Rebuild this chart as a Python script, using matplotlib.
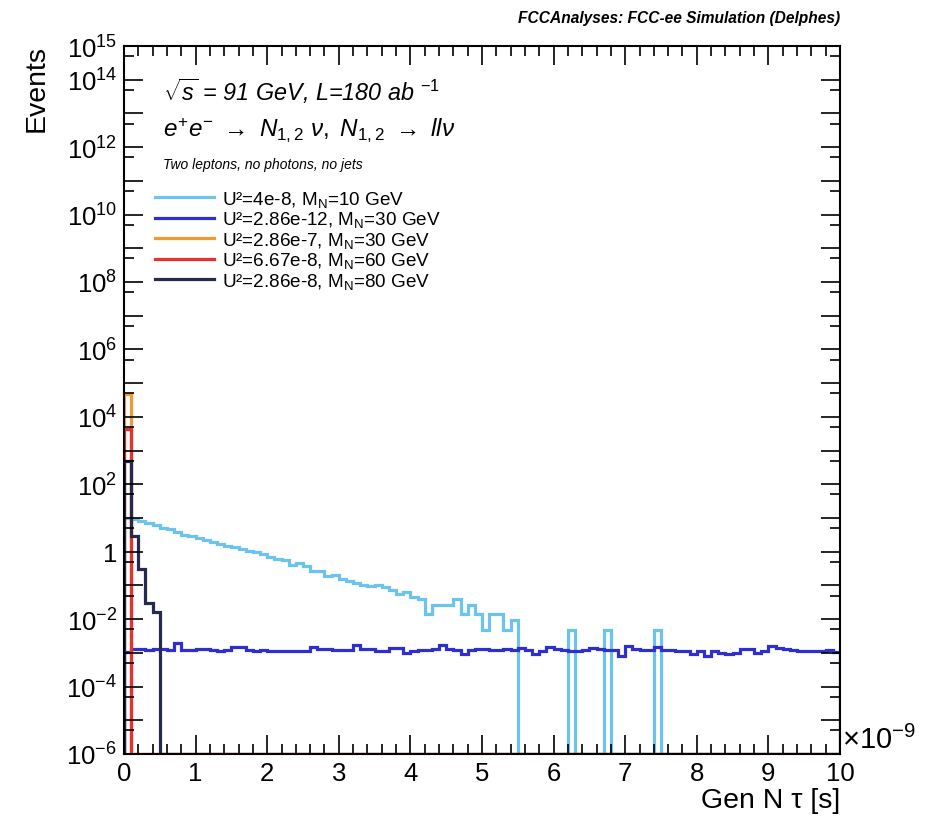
import numpy as np
import matplotlib
matplotlib.use("Agg")
import matplotlib.pyplot as plt
from matplotlib.lines import Line2D
from matplotlib.ticker import FixedLocator, FixedFormatter

plt.rcParams['font.family'] = ['Liberation Sans', 'DejaVu Sans']
plt.rcParams['mathtext.fontset'] = 'custom'
plt.rcParams['mathtext.rm'] = 'Liberation Sans'
plt.rcParams['mathtext.it'] = 'Liberation Sans:italic'
plt.rcParams['mathtext.bf'] = 'Liberation Sans:bold'

# bin edges in units of 1e-9 s, 100 bins
edges = np.linspace(0, 10, 101)

# U2=4e-8, MN=10 GeV
h_10 = [10.2, 9.4, 8.1, 6.9, 6.3, 5.2, 4.6, 3.9, 3.1, 2.9,
        2.6, 2.2, 1.9, 1.7, 1.5, 1.35, 1.2, 1.05, 0.95, 0.85,
        0.72, 0.62, 0.55, 0.41, 0.45, 0.38, 0.26, 0.27, 0.19, 0.21,
        0.16, 0.14, 0.12, 0.105, 0.098, 0.10, 0.087, 0.072, 0.055, 0.063,
        0.045, 0.039, 0.0145, 0.026, 0.026, 0.026, 0.039, 0.0145, 0.026, 0.0145,
        0.0048, 0.0145, 0.0145, 0.0048, 0.0096, 0, 0, 0, 0, 0,
        0, 0, 0.0048, 0, 0, 0, 0, 0.0048, 0, 0,
        0, 0, 0, 0, 0.0048, 0, 0, 0, 0, 0,
        0, 0, 0, 0, 0, 0, 0, 0, 0, 0,
        0, 0, 0, 0, 0, 0, 0, 0, 0, 0]

# U2=2.86e-12, MN=30 GeV
h_30a = [0.00105, 0.0013, 0.0013, 0.0012, 0.0013, 0.0013, 0.00125, 0.0019, 0.0012, 0.00125,
         0.0013, 0.0013, 0.0012, 0.0011, 0.00125, 0.0015, 0.0015, 0.0012, 0.0011, 0.0012,
         0.0011, 0.0011, 0.00115, 0.0011, 0.0011, 0.0011, 0.00145, 0.0013, 0.0013, 0.00125,
         0.0012, 0.0012, 0.0017, 0.0013, 0.0013, 0.0011, 0.0011, 0.00135, 0.00135, 0.001,
         0.0011, 0.00125, 0.00125, 0.0013, 0.0017, 0.0013, 0.00125, 0.00095, 0.0012, 0.0013,
         0.0013, 0.0012, 0.0012, 0.0013, 0.0012, 0.00135, 0.0012, 0.00095, 0.0011, 0.0015,
         0.0013, 0.0012, 0.0011, 0.0011, 0.0012, 0.0014, 0.0013, 0.0012, 0.00125, 0.0008,
         0.0016, 0.0013, 0.0012, 0.00125, 0.0015, 0.0012, 0.0012, 0.0011, 0.0011, 0.0009,
         0.0011, 0.0008, 0.0011, 0.001, 0.0009, 0.001, 0.0013, 0.0013, 0.0010, 0.0011,
         0.0016, 0.0014, 0.0013, 0.0012, 0.0011, 0.0011, 0.00115, 0.0011, 0.0012, 0.00105]

# U2=2.86e-7, MN=30 GeV / U2=6.67e-8, MN=60 GeV / U2=2.86e-8, MN=80 GeV
h_30b = [4.7e4] + [0] * 99
h_60 = [4400] + [0] * 99
h_80 = [500, 3.0, 0.3, 0.03, 0.016] + [0] * 95

labels = ['U\u00b2=4e-8, M$_{\\mathrm{N}}$=10 GeV',
          'U\u00b2=2.86e-12, M$_{\\mathrm{N}}$=30 GeV',
          'U\u00b2=2.86e-7, M$_{\\mathrm{N}}$=30 GeV',
          'U\u00b2=6.67e-8, M$_{\\mathrm{N}}$=60 GeV',
          'U\u00b2=2.86e-8, M$_{\\mathrm{N}}$=80 GeV']
colors = ['#6cc3ee', '#2f2fcf', '#f09a32', '#e8302e', '#262a4e']

W, H = 935, 829
fig = plt.figure(figsize=(W / 100, H / 100), dpi=100)
ax = fig.add_axes([124 / W, 1 - 755 / H, (840 - 124) / W, (755 - 47) / H])

ymin, ymax = 1e-6, 1e15
for h, c in zip([h_10, h_30a, h_30b, h_60, h_80], colors):
    v = np.array(h, dtype=float)
    v[v <= 0] = ymin  # empty bins drawn on the frame bottom, as ROOT does
    ax.stairs(v, edges, baseline=ymin, color=c, lw=2.3)

ax.set_yscale('log')
ax.set_xlim(0, 10)
ax.set_ylim(ymin, ymax)

# ticks
ax.set_xticks(np.arange(0, 11, 1))
ax.set_xticks(np.arange(0, 10.01, 0.2), minor=True)
ax.set_xticklabels([str(i) for i in range(11)])
exps = np.arange(-6, 16)
ax.yaxis.set_major_locator(FixedLocator(10.0 ** exps))
ylab = []
for e in exps:
    if e == 0:
        ylab.append('1')
    elif e % 2 == 0 or e == 15:
        ylab.append(r'$10^{%d}$' % e)
    else:
        ylab.append('')
ax.yaxis.set_major_formatter(FixedFormatter(ylab))
ax.yaxis.set_minor_locator(FixedLocator(0.5 * 10.0 ** np.arange(-5, 16)))

ax.tick_params(which='both', direction='in', top=True, right=True, width=1.2)
ax.tick_params(which='major', length=14, labelsize=18.5, pad=5)
ax.tick_params(which='minor', length=7)
for s in ax.spines.values():
    s.set_linewidth(1.5)

ax.text(1.003, 0.02, r'$\times$10$^{-9}$', transform=ax.transAxes,
        fontsize=21, ha='left', va='center')
fig.text(840 / W, 1 - 801 / H, 'Gen N \u03c4 [s]', fontsize=20.5, ha='right', va='center')
fig.text(37 / W, 1 - 45 / H, 'Events', fontsize=20.5, rotation=90, ha='center', va='top')

fig.text(840 / W, 1 - 18 / H, 'FCCAnalyses: FCC-ee Simulation (Delphes)',
         fontsize=11.2, fontweight='bold', fontstyle='italic', ha='right', va='center')

fig.text(163 / W, 1 - 91 / H, r'$\sqrt{s}$ = 91 GeV, L=180 ab $^{-1}$',
         fontsize=16.8, fontstyle='italic', ha='left', va='center')
fig.text(163 / W, 1 - 131 / H,
         r'$e^{+}e^{-}\ \rightarrow\ N_{\mathit{1,2}}\ \nu,\ N_{\mathit{1,2}}\ \rightarrow\ ll\nu$',
         fontsize=17.5, ha='left', va='center')
fig.text(163 / W, 1 - 165 / H, 'Two leptons, no photons, no jets',
         fontsize=10, fontstyle='italic', ha='left', va='center')

handles = [Line2D([], [], color=c, lw=2.3) for c in colors]
ax.legend(handles, labels, loc='upper left', bbox_to_anchor=(155 / W, 1 - 190 / H),
          bbox_transform=fig.transFigure, frameon=False, fontsize=13.6,
          handlelength=3.1, handletextpad=0.45, labelspacing=0.02,
          borderpad=0, borderaxespad=0)

fig.savefig('out.png', dpi=100)
